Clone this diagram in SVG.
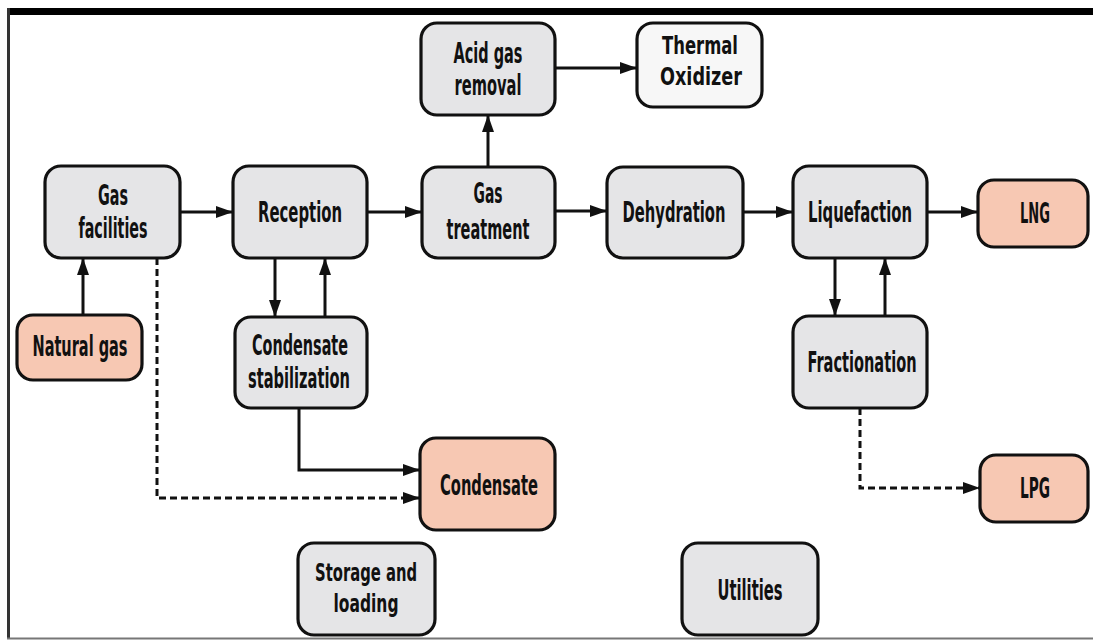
<svg xmlns="http://www.w3.org/2000/svg" width="1093" height="644" viewBox="0 0 1093 644">
<style>
.n{stroke:#111;stroke-width:3.2}
.g{fill:#e5e5e7}
.p{fill:#f7c8b3}
.w{fill:#f7f7f7}
text{font-family:"DejaVu Sans Condensed","DejaVu Sans",sans-serif;font-weight:bold;font-size:28px;fill:#111;text-anchor:middle}
.s{font-size:24px}
.t{font-size:25px}
.c{fill:none;stroke:#111;stroke-width:3}
.d{stroke-dasharray:7 4}
</style>
<defs>
<marker id="a" markerUnits="userSpaceOnUse" markerWidth="18" markerHeight="16" refX="17" refY="8" orient="auto">
<path d="M0,2 L17,8 L0,14 Z" fill="#111"/>
</marker>
</defs>
<rect width="1093" height="644" fill="#fff"/>
<g id="frame">
<rect x="7" y="8" width="1086" height="7" fill="#000"/>
<line x1="8.5" y1="8" x2="8.5" y2="638" stroke="#333" stroke-width="3"/>
<line x1="7" y1="638.5" x2="1093" y2="638.5" stroke="#777" stroke-width="2"/>
</g>
<g id="connectors">
<path class="c" d="M180,212 H233" marker-end="url(#a)"/>
<path class="c" d="M83,315 V258" marker-end="url(#a)"/>
<path class="c d" d="M157,258 V498 H420" marker-end="url(#a)"/>
<path class="c" d="M275,258 V317" marker-end="url(#a)"/>
<path class="c" d="M325,317 V258" marker-end="url(#a)"/>
<path class="c" d="M299,408 V470 H420" marker-end="url(#a)"/>
<path class="c" d="M367,212 H422" marker-end="url(#a)"/>
<path class="c" d="M488,167 V115" marker-end="url(#a)"/>
<path class="c" d="M555,68 H637" marker-end="url(#a)"/>
<path class="c" d="M555,211 H607" marker-end="url(#a)"/>
<path class="c" d="M743,212 H793" marker-end="url(#a)"/>
<path class="c" d="M927,212 H978" marker-end="url(#a)"/>
<path class="c" d="M835,258 V316" marker-end="url(#a)"/>
<path class="c" d="M885,316 V258" marker-end="url(#a)"/>
<path class="c d" d="M860,408 V488 H980" marker-end="url(#a)"/>
</g>
<g id="gas-facilities">
<rect class="n g" x="45" y="166" width="135" height="92" rx="16"/>
<text x="113" y="205" textLength="30" lengthAdjust="spacingAndGlyphs">Gas</text>
<text x="113" y="238" textLength="69" lengthAdjust="spacingAndGlyphs">facilities</text>
</g>
<g id="natural-gas">
<rect class="n p" x="17" y="315" width="125" height="65" rx="16"/>
<text x="80" y="356" textLength="95" lengthAdjust="spacingAndGlyphs">Natural gas</text>
</g>
<g id="reception">
<rect class="n g" x="233" y="166" width="134" height="92" rx="16"/>
<text x="300" y="222" textLength="84" lengthAdjust="spacingAndGlyphs">Reception</text>
</g>
<g id="condensate-stabilization">
<rect class="n g" x="235" y="317" width="132" height="91" rx="16"/>
<text x="300" y="355" textLength="96" lengthAdjust="spacingAndGlyphs">Condensate</text>
<text x="299" y="388" textLength="102" lengthAdjust="spacingAndGlyphs">stabilization</text>
</g>
<g id="gas-treatment">
<rect class="n g" x="422" y="167" width="133" height="91" rx="16"/>
<text x="488" y="203" textLength="29" lengthAdjust="spacingAndGlyphs">Gas</text>
<text x="488" y="239" textLength="83" lengthAdjust="spacingAndGlyphs">treatment</text>
</g>
<g id="acid-gas-removal">
<rect class="n g" x="421" y="23" width="134" height="92" rx="16"/>
<text x="488" y="63" textLength="69" lengthAdjust="spacingAndGlyphs">Acid gas</text>
<text x="488" y="95" textLength="67" lengthAdjust="spacingAndGlyphs">removal</text>
</g>
<g id="thermal-oxidizer">
<rect class="n w" x="637" y="23" width="125" height="84" rx="16"/>
<text class="s" x="700" y="54" textLength="76" lengthAdjust="spacingAndGlyphs">Thermal</text>
<text class="s" x="701" y="85" textLength="82" lengthAdjust="spacingAndGlyphs">Oxidizer</text>
</g>
<g id="dehydration">
<rect class="n g" x="607" y="167" width="136" height="91" rx="16"/>
<text x="674" y="222" textLength="103" lengthAdjust="spacingAndGlyphs">Dehydration</text>
</g>
<g id="liquefaction">
<rect class="n g" x="793" y="166" width="134" height="92" rx="16"/>
<text x="860" y="222" textLength="104" lengthAdjust="spacingAndGlyphs">Liquefaction</text>
</g>
<g id="lng">
<rect class="n p" x="978" y="180" width="110" height="67" rx="16"/>
<text x="1035" y="223" textLength="30" lengthAdjust="spacingAndGlyphs">LNG</text>
</g>
<g id="fractionation">
<rect class="n g" x="793" y="316" width="134" height="92" rx="16"/>
<text x="862" y="372" textLength="109" lengthAdjust="spacingAndGlyphs">Fractionation</text>
</g>
<g id="lpg">
<rect class="n p" x="980" y="455" width="108" height="67" rx="16"/>
<text x="1035" y="498" textLength="30" lengthAdjust="spacingAndGlyphs">LPG</text>
</g>
<g id="condensate">
<rect class="n p" x="420" y="438" width="135" height="92" rx="16"/>
<text x="489" y="495" textLength="98" lengthAdjust="spacingAndGlyphs">Condensate</text>
</g>
<g id="storage-and-loading">
<rect class="n g" x="298" y="543" width="137" height="92" rx="16"/>
<text class="t" x="366" y="581" textLength="102" lengthAdjust="spacingAndGlyphs">Storage and</text>
<text class="t" x="366" y="612" textLength="65" lengthAdjust="spacingAndGlyphs">loading</text>
</g>
<g id="utilities">
<rect class="n g" x="682" y="543" width="136" height="92" rx="16"/>
<text x="750" y="600" textLength="65" lengthAdjust="spacingAndGlyphs">Utilities</text>
</g>
</svg>
